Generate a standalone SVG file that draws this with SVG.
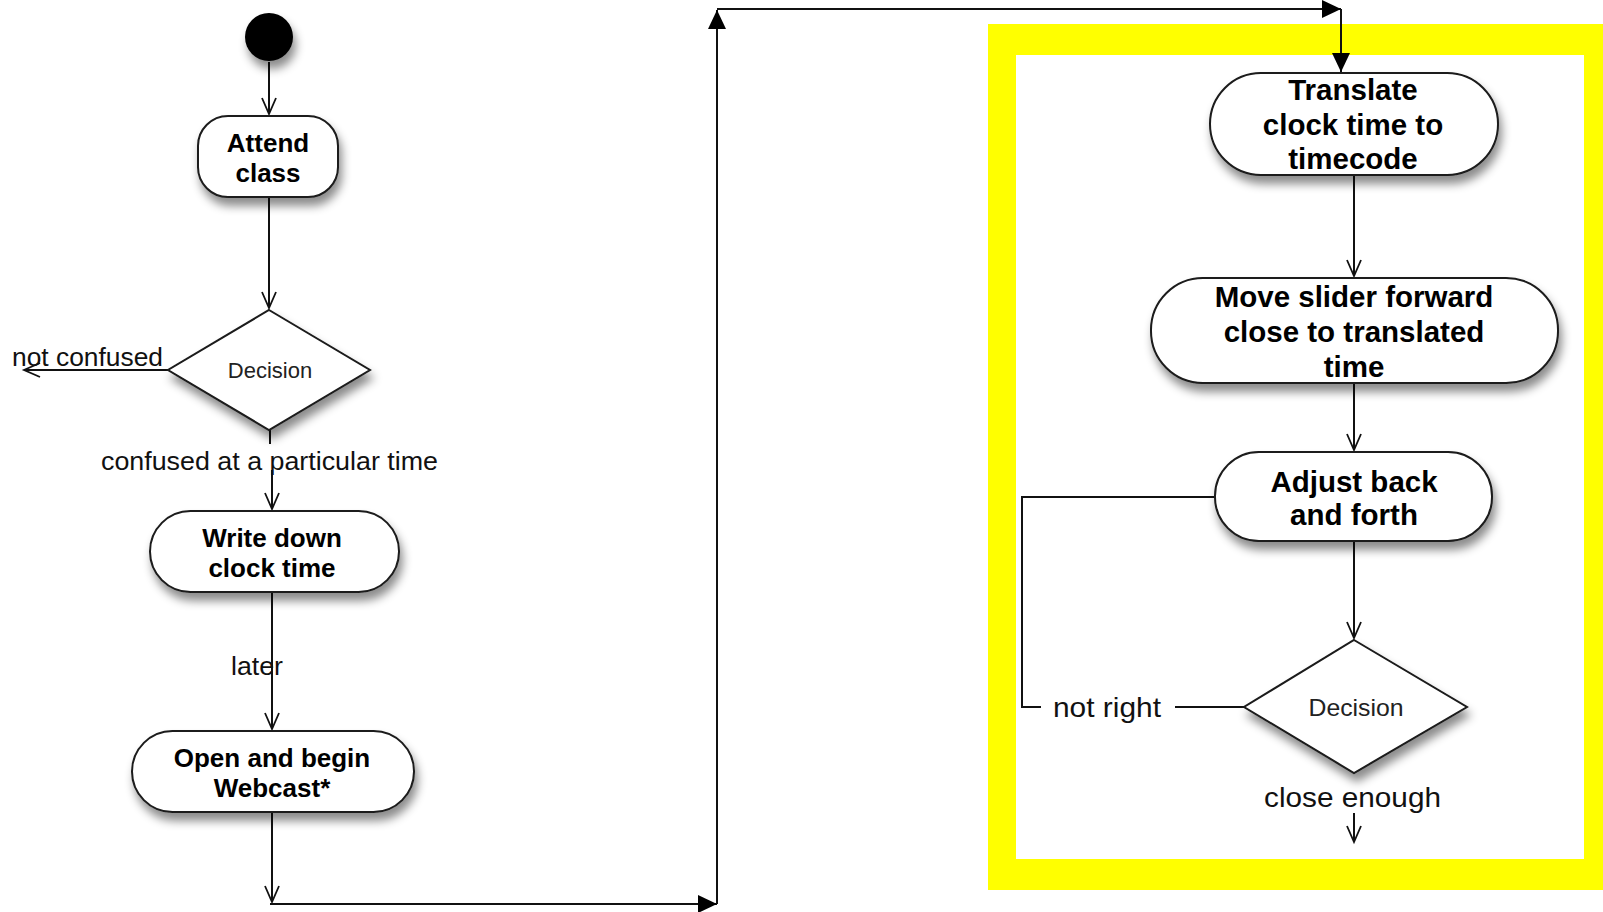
<svg xmlns="http://www.w3.org/2000/svg" width="1603" height="912" viewBox="0 0 1603 912">
<style>
.box{fill:#fff;stroke:#1a1a1a;stroke-width:2;filter:url(#sh)}
.dia{fill:#fff;stroke:#1a1a1a;stroke-width:2;filter:url(#sh)}
.bt{font-family:"Liberation Sans",Arial,sans-serif;font-weight:bold;fill:#000;text-anchor:middle}
.l{font-size:26px}
.r{font-size:29.5px}
.lab{font-family:"Liberation Sans",Arial,sans-serif;fill:#111}
.dec{font-family:"Liberation Sans",Arial,sans-serif;fill:#222;text-anchor:middle}
.c{fill:none;stroke:#111;stroke-width:2}
.o{marker-end:url(#open)}
.f{marker-end:url(#fill)}
</style>
<defs>
<filter id="sh" x="-30%" y="-30%" width="160%" height="180%">
<feDropShadow dx="3" dy="8" stdDeviation="5" flood-color="#000" flood-opacity="0.45"/>
</filter>
<marker id="open" markerUnits="userSpaceOnUse" viewBox="-18 -9 20 18" markerWidth="20" markerHeight="18" refX="0" refY="0" orient="auto" overflow="visible">
<path d="M-16,-7 L0,0 L-16,7" fill="none" stroke="#111" stroke-width="1.8"/>
</marker>
<marker id="fill" markerUnits="userSpaceOnUse" viewBox="-20 -10 21 20" markerWidth="21" markerHeight="20" refX="0" refY="0" orient="auto" overflow="visible">
<path d="M-19,-9 L0,0 L-19,9 Z" fill="#000"/>
</marker>
</defs>
<rect width="1603" height="912" fill="#fff"/>
<g id="frame">
<rect x="988" y="24" width="615" height="866" fill="#FFFF00"/>
<rect x="1016" y="55" width="568" height="804" fill="#fff"/>
</g>
<g id="connectors">
<path class="c o" d="M269,62 V114"/>
<path class="c o" d="M269,197 V308"/>
<path class="c o" d="M168,370 H24"/>
<path class="c o" d="M270,430 V444 M272,470 V509"/>
<path class="c o" d="M272,592 V729"/>
<path class="c o" d="M272,812 V902"/>
<path class="c f" d="M270,904 H717"/>
<path class="c f" d="M717,904 V10"/>
<path class="c f" d="M717,9 H1341"/>
<path class="c f" d="M1341,9 V72"/>
<path class="c o" d="M1354,175 V276"/>
<path class="c o" d="M1354,383 V450"/>
<path class="c o" d="M1354,541 V638"/>
<path class="c" d="M1244,707 H1175 M1041,707 H1022 V497 H1215"/>
<path class="c o" d="M1354,813 V842"/>
<text class="lab" x="12" y="366" font-size="25" textLength="151" lengthAdjust="spacingAndGlyphs">not confused</text>
<text class="lab" x="101" y="470" font-size="25" textLength="337" lengthAdjust="spacingAndGlyphs">confused at a particular time</text>
<text class="lab" x="231" y="675" font-size="25" textLength="52" lengthAdjust="spacingAndGlyphs">later</text>
<text class="lab" x="1053" y="717" font-size="28" textLength="108" lengthAdjust="spacingAndGlyphs">not right</text>
<text class="lab" x="1264" y="807" font-size="28" textLength="177" lengthAdjust="spacingAndGlyphs">close enough</text>
</g>
<g id="start">
<circle cx="269" cy="37" r="24" fill="#000" filter="url(#sh)"/>
</g>
<g id="attend">
<rect class="box" x="198" y="116" width="140" height="81" rx="30"/>
<text class="bt l" x="268" y="152">Attend</text>
<text class="bt l" x="268" y="182">class</text>
</g>
<g id="decision1">
<polygon class="dia" points="269,310 370,370 269,430 168,370"/>
<text class="dec" x="270" y="378" font-size="22">Decision</text>
</g>
<g id="writedown">
<rect class="box" x="150" y="511" width="249" height="81" rx="40.5"/>
<text class="bt l" x="272" y="547">Write down</text>
<text class="bt l" x="272" y="577">clock time</text>
</g>
<g id="openbegin">
<rect class="box" x="132" y="731" width="282" height="81" rx="40.5"/>
<text class="bt l" x="272" y="767">Open and begin</text>
<text class="bt l" x="272" y="797">Webcast*</text>
</g>
<g id="translate">
<rect class="box" x="1210" y="73" width="288" height="102" rx="51"/>
<text class="bt r" x="1353" y="100">Translate</text>
<text class="bt r" x="1353" y="134.5">clock time to</text>
<text class="bt r" x="1353" y="169">timecode</text>
</g>
<g id="moveslider">
<rect class="box" x="1151" y="278" width="407" height="105" rx="52"/>
<text class="bt r" x="1354" y="307">Move slider forward</text>
<text class="bt r" x="1354" y="342">close to translated</text>
<text class="bt r" x="1354" y="377">time</text>
</g>
<g id="adjust">
<rect class="box" x="1215" y="452" width="277" height="89" rx="44"/>
<text class="bt r" x="1354" y="491.5">Adjust back</text>
<text class="bt r" x="1354" y="524.5">and forth</text>
</g>
<g id="decision2">
<polygon class="dia" points="1354,640 1467,707 1354,773 1244,707"/>
<text class="dec" x="1356" y="715.5" font-size="24" textLength="95" lengthAdjust="spacingAndGlyphs">Decision</text>
</g>
</svg>
